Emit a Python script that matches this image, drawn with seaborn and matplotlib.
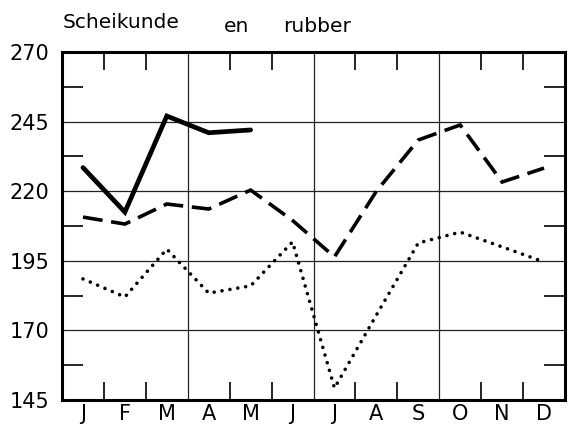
import numpy as np
import pandas as pd
import matplotlib
matplotlib.use("Agg")
import matplotlib.pyplot as plt
import seaborn as sns

# Data
months = ["J", "F", "M", "A", "M", "J", "J", "A", "S", "O", "N", "D"]
solid_vals = [228.5, 212.5, 247.0, 241.0, 242.0]
dashed_vals = [210.7, 208.2, 215.4, 213.6, 220.4, 209.5, 196.4, 220.0, 238.4, 243.8, 223.3, 228.3]
dotted_vals = [188.5, 182.0, 199.2, 183.4, 186.0, 201.8, 149.3, 175.5, 201.4, 205.3, 200.0, 194.6]
y_ticks = [145, 170, 195, 220, 245, 270]
title_words = ["Scheikunde", "en", "rubber"]

sns.set_style("white")
plt.rcParams["font.family"] = ["DejaVu Sans"]
plt.rcParams["text.color"] = "black"
plt.rcParams["xtick.labelcolor"] = "black"
plt.rcParams["ytick.labelcolor"] = "black"

fig = plt.figure(figsize=(5.71, 4.32), dpi=100)
ax = fig.add_axes([0.1086, 0.0741, 0.8809, 0.8055])

pos = np.arange(len(months)) + 0.5
df_dash = pd.DataFrame({"x": pos, "y": dashed_vals})
df_dot = pd.DataFrame({"x": pos, "y": dotted_vals})
df_solid = pd.DataFrame({"x": pos[:len(solid_vals)], "y": solid_vals})

sns.lineplot(data=df_dot, x="x", y="y", ax=ax, color="black", lw=2.6,
             linestyle=(0, (0.01, 2.2)), dash_capstyle="round", solid_capstyle="round")
sns.lineplot(data=df_dash, x="x", y="y", ax=ax, color="black", lw=2.6,
             linestyle=(0, (5.5, 2.4)), dash_joinstyle="miter")
sns.lineplot(data=df_solid, x="x", y="y", ax=ax, color="black", lw=3.4,
             solid_joinstyle="miter")

ax.set_xlim(0, 12)
ax.set_ylim(145, 270)

# grid: horizontal at major values, vertical at quarter boundaries
for yv in y_ticks[1:-1]:
    ax.axhline(yv, color="#222222", lw=0.9, zorder=0.5)
for xv in [3, 6, 9]:
    ax.axvline(xv, color="#222222", lw=0.9, zorder=0.5)

# inward ticks between months, top and bottom
ax.set_xticks([1, 2, 4, 5, 7, 8, 10, 11])
ax.set_xticklabels([])
ax.set_xticks(pos, minor=True)
ax.set_xticklabels(months, minor=True, fontsize=15)
ax.tick_params(axis="x", which="major", direction="in", length=13, width=1.2,
               top=True, bottom=True, color="black")
ax.tick_params(axis="x", which="minor", length=0, pad=3)

ax.set_yticks(y_ticks)
ax.set_yticklabels([str(v) for v in y_ticks], fontsize=15)
ax.set_yticks([157.5, 182.5, 207.5, 232.5, 257.5], minor=True)
ax.tick_params(axis="y", which="major", length=0, pad=9)
ax.tick_params(axis="y", which="minor", direction="in", length=15, width=1.2,
               left=True, right=True, color="black")

for s in ax.spines.values():
    s.set_visible(True)
    s.set_color("black")
    s.set_linewidth(2.2)

ax.set_xlabel("")
ax.set_ylabel("")

fig.text(63 / 571, 1 - 23 / 432, title_words[0], fontsize=14.5, va="center", ha="left")
fig.text(224 / 571, 1 - 26 / 432, title_words[1], fontsize=14.5, va="center", ha="left")
fig.text(283 / 571, 1 - 26 / 432, title_words[2], fontsize=14.5, va="center", ha="left")

fig.savefig("out.png", dpi=100)
